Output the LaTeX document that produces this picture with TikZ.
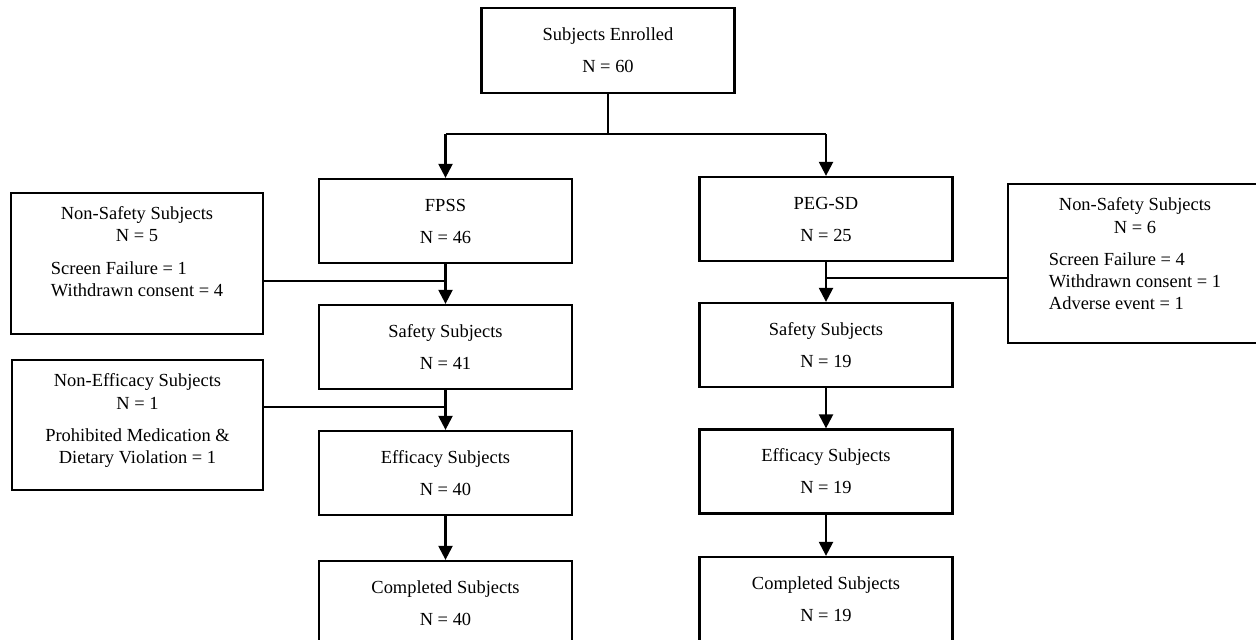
\documentclass[tikz,border=0pt]{standalone}
\usepackage{fontspec}
\setmainfont{Liberation Serif}
\usetikzlibrary{arrows.meta}
\usetikzlibrary{positioning}

\begin{document}
\begin{tikzpicture}[
  x=0.02cm, y=-0.02cm,
  line width=1.3pt,
  every node/.style={font=\fontsize{10.5}{12.6}\selectfont, align=center},
  mainbox/.style={draw, rectangle, minimum width=5.06cm, minimum height=1.68cm, inner sep=0pt},
  sidebox/.style={draw, rectangle, inner sep=0pt},
  sidetext/.style={anchor=north, yshift=-0.16cm},
]
\tikzset{>={Stealth[length=8pt, width=8pt, inset=0pt]}}

  \useasboundingbox (0,0) rectangle (1256,639);
  \clip (0,0) rectangle (1256,639);

  % Nodes
  \node[mainbox, minimum height=1.7cm] (enrol) at (608, 50.5) {Subjects Enrolled\\[5.6pt]N = 60};

  \node[mainbox] (fpss)  at (445.5, 221) {FPSS\\[5.6pt]N = 46};
  \node[mainbox] (lsafe) at (445.5, 347) {Safety Subjects\\[5.6pt]N = 41};
  \node[mainbox] (leff)  at (445.5, 473) {Efficacy Subjects\\[5.6pt]N = 40};
  \node[mainbox] (lcomp) at (445.5, 603) {Completed Subjects\\[5.6pt]N = 40};

  \node[mainbox] (peg)   at (826, 219)   {PEG-SD\\[5.6pt]N = 25};
  \node[mainbox] (rsafe) at (826, 345)   {Safety Subjects\\[5.6pt]N = 19};
  \node[mainbox] (reff)  at (826, 471.5) {Efficacy Subjects\\[5.6pt]N = 19};
  \node[mainbox] (rcomp) at (826, 599)   {Completed Subjects\\[5.6pt]N = 19};

  % Side boxes
  \node[sidebox, minimum width=5.04cm, minimum height=2.82cm,
    label={[sidetext, name=nsafeLtxt]north:{Non-Safety Subjects\\N = 5\\[6pt]%
      \begin{tabular}[t]{@{}l@{}}Screen Failure = 1\\Withdrawn consent = 4\end{tabular}}}]
    (nsafeL) at (137, 263.5) {};
  \node[sidebox, minimum width=5.02cm, minimum height=2.6cm,
    label={[sidetext, name=neffLtxt]north:{Non-Efficacy Subjects\\N = 1\\[6pt]%
      Prohibited Medication \&\\Dietary Violation = 1}}]
    (neffL) at (137.5, 425) {};
  \node[sidebox, minimum width=5.08cm, minimum height=3.18cm,
    label={[sidetext, name=nsafeRtxt]north:{Non-Safety Subjects\\N = 6\\[6pt]%
      \begin{tabular}[t]{@{}l@{}}Screen Failure = 4\\Withdrawn consent = 1\\Adverse event = 1\end{tabular}}}]
    (nsafeR) at (1135, 263.5) {};

  % Edges
  \coordinate (fork) at (608,134);
  \draw (enrol) -- (fork);
  \draw (fpss.north |- fork) -- (peg.north |- fork);
  \draw[->] (fpss.north |- fork) -- (fpss);
  \draw[->] (peg.north |- fork) -- (peg);

  \draw[->] (fpss) -- (lsafe);
  \draw[->] (lsafe) -- (leff);
  \draw[->] (leff) -- (lcomp);
  \draw[->] (peg) -- (rsafe);
  \draw[->] (rsafe) -- (reff);
  \draw[->] (reff) -- (rcomp);

  \coordinate (jl1) at (445.5,281);
  \coordinate (jl2) at (445.5,407);
  \coordinate (jr1) at (826,278);
  \draw (nsafeL.east |- jl1) -- (jl1);
  \draw (neffL.east |- jl2) -- (jl2);
  \draw (jr1) -- (nsafeR.west |- jr1);

\end{tikzpicture}
\end{document}
